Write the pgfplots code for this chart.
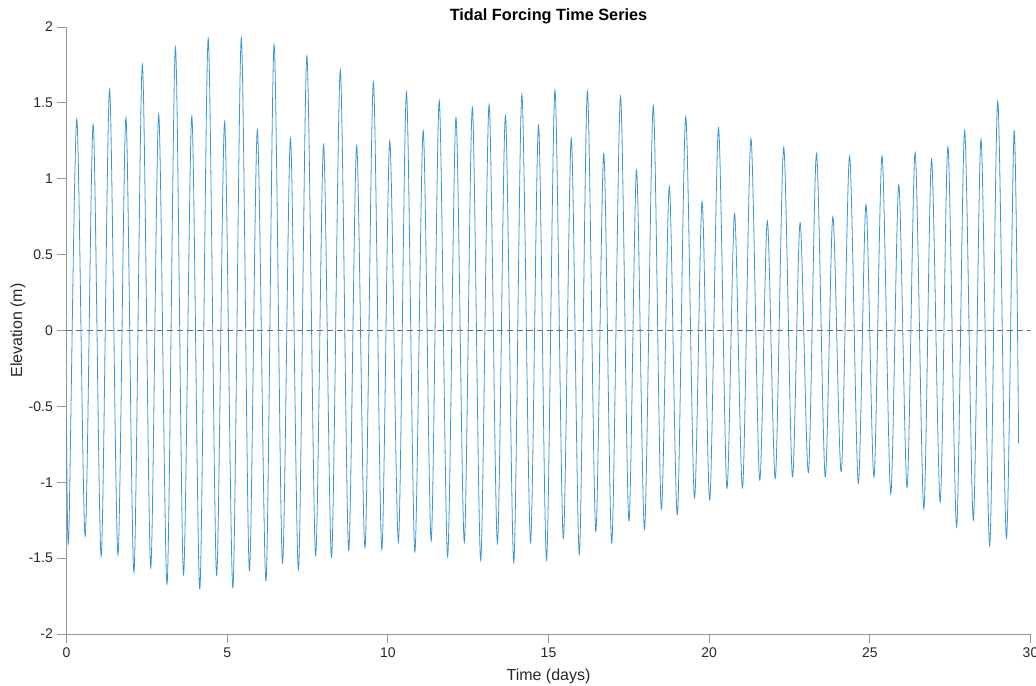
\documentclass[border=0pt]{standalone}
\usepackage{pgfplots}
\pgfplotsset{compat=1.18}
\usepackage{fontspec}
\setmainfont{Liberation Sans}
\definecolor{tideblue}{RGB}{60,150,212}
\definecolor{axgray}{RGB}{150,150,150}
\definecolor{txtgray}{RGB}{40,40,40}
\definecolor{zerogray}{RGB}{105,105,105}
\pgfplotstableread{
t v
0.00 -0.579
0.07 -1.359
0.32 1.392
0.58 -1.354
0.83 1.356
1.08 -1.486
1.34 1.589
1.60 -1.477
1.85 1.402
2.10 -1.593
2.36 1.752
2.62 -1.563
2.87 1.422
3.13 -1.671
3.39 1.866
3.64 -1.609
3.90 1.412
4.15 -1.703
4.41 1.923
4.67 -1.613
4.92 1.374
5.18 -1.695
5.44 1.928
5.69 -1.583
5.94 1.321
6.21 -1.649
6.46 1.883
6.72 -1.534
6.97 1.267
7.22 -1.576
7.48 1.807
7.75 -1.484
8.00 1.222
8.25 -1.495
8.52 1.717
8.78 -1.449
9.03 1.216
9.29 -1.431
9.55 1.636
9.81 -1.442
10.06 1.249
10.33 -1.394
10.58 1.570
10.84 -1.458
11.10 1.317
11.35 -1.385
11.60 1.514
11.86 -1.488
12.12 1.402
12.38 -1.394
12.63 1.468
12.89 -1.514
13.15 1.488
13.41 -1.402
13.66 1.416
13.92 -1.528
14.17 1.554
14.44 -1.396
14.69 1.350
14.94 -1.512
15.20 1.583
15.46 -1.369
15.71 1.264
15.96 -1.473
16.21 1.578
16.47 -1.323
16.72 1.165
16.97 -1.400
17.24 1.543
17.50 -1.255
17.74 1.056
17.99 -1.310
18.26 1.481
18.51 -1.178
18.76 0.948
19.01 -1.214
19.27 1.409
19.54 -1.104
19.78 0.849
20.02 -1.117
20.29 1.334
20.55 -1.038
20.79 0.770
21.04 -1.038
21.30 1.264
21.57 -0.985
21.81 0.722
22.06 -0.974
22.32 1.207
22.59 -0.963
22.83 0.710
23.09 -0.937
23.34 1.168
23.61 -0.965
23.85 0.750
24.11 -0.930
24.37 1.150
24.64 -1.007
24.88 0.829
25.13 -0.965
25.38 1.150
25.65 -1.075
25.90 0.959
26.16 -1.033
26.41 1.172
26.68 -1.174
26.92 1.128
27.19 -1.130
27.43 1.211
27.70 -1.293
27.95 1.317
28.22 -1.249
28.46 1.260
28.73 -1.418
28.98 1.510
29.25 -1.367
29.49 1.313
29.63 -0.743
}\tidetable
\begin{document}
\begin{tikzpicture}
\begin{axis}[
  scale only axis, width=723pt, height=455.25pt,
  xmin=0, xmax=30, ymin=-2, ymax=2,
  axis x line*=bottom, axis y line*=left,
  axis line style={axgray, line width=0.6pt, -},
  xtick={0,5,10,15,20,25,30},
  ytick={-2,-1.5,-1,-0.5,0,0.5,1,1.5,2},
  tick align=outside, major tick length=6.75pt,
  tick style={axgray, line width=0.6pt},
  ticklabel style={font=\fontsize{10.5}{12}\selectfont, text=txtgray},
  /pgf/number format/assume math mode=true,
  xlabel={Time (days)},
  xlabel style={font=\fontsize{12}{14}\selectfont, text=txtgray, at={(axis description cs:0.5,-0.0773)}, anchor=base},
  ylabel={Elevation (m)},
  ylabel style={font=\fontsize{12}{14}\selectfont, text=txtgray, at={(axis description cs:-0.0503,0.5)}, anchor=center},
  clip=true,
]
\addplot[zerogray, line width=0.6pt, dash pattern=on 4.5pt off 3pt] coordinates {(0,0) (30,0)};
\addplot[tideblue, line width=0.6pt, smooth, no markers] table[x=t, y=v] {\tidetable};
\end{axis}
\node[anchor=base, font=\fontsize{12.2}{14}\selectfont\bfseries, text=black] at ([yshift=4.5pt]current axis.north) {Tidal Forcing Time Series};
\pgfresetboundingbox
\path[use as bounding box] ([xshift=-49.875pt,yshift=-38.25pt]current axis.south west) rectangle ([xshift=4.125pt,yshift=20.25pt]current axis.north east);
\end{tikzpicture}
\end{document}
